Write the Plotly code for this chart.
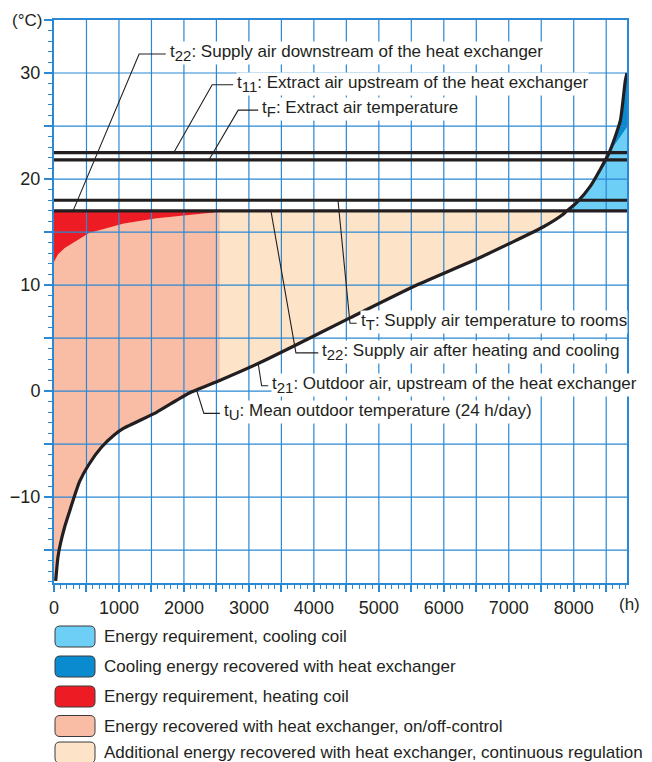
import plotly.graph_objects as go

# Outdoor air temperature duration curve (t21 / tU), hours per year vs °C
hours = [26, 46, 62, 99, 165, 242, 304, 396, 539, 730, 935, 1074, 1578, 2075, 2550,
         3143, 3709, 4556, 5584, 6559, 7535, 7843, 7895, 8049, 8254, 8547, 8717, 8794, 8820]
outdoor = [-17.9, -16.5, -15.6, -14.4, -12.8, -11.3, -10.1, -8.5, -6.9, -5.3, -4.1, -3.5, -2.0, -0.2, 1.0,
           2.6, 4.3, 6.9, 10.0, 12.6, 15.5, 16.7, 17.0, 17.8, 19.3, 22.5, 25.5, 29.3, 30.0]

# supply air after heat exchanger in heating mode (upper edge of salmon area)
hx_hours = [0, 62, 165, 304, 539, 1074, 1578, 2075, 2450, 2550]
hx_supply = [12.2, 12.9, 13.5, 14.0, 14.9, 15.8, 16.3, 16.6, 16.85, 17.0]

# supply air after heat exchanger in cooling mode (lower edge of dark blue area)
cool_hours = [8547, 8820]
cool_supply = [22.5, 24.9]

on_off_end = 2550          # end of on/off-controlled recovery (h)
x_max = 8820
y_min, y_max = -18.1, 35

# horizontal temperature levels
t22_level = 17.0   # supply air downstream of heat exchanger / after heating+cooling
tT_level = 18.0    # supply air temperature to rooms
tF_level = 21.8    # extract air temperature
t11_level = 22.5   # extract air upstream of heat exchanger

x_ticks = list(range(0, 8501, 500))
x_ticktext = [str(v) if v % 1000 == 0 else "" for v in x_ticks]
y_ticks = list(range(-15, 36, 5))
y_ticktext = [("\u221210" if v == -10 else str(v)) if v % 10 == 0 else "" for v in y_ticks]

legend_labels = [
    "Energy requirement, cooling coil",
    "Cooling energy recovered with heat exchanger",
    "Energy requirement, heating coil",
    "Energy recovered with heat exchanger, on/off-control",
    "Additional energy recovered with heat exchanger, continuous regulation",
]
legend_colors = ["#6dcff6", "#0a8bd0", "#ed1c24", "#f9bda5", "#fde4c8"]
c_cool, c_cool_rec, c_heat, c_onoff, c_cont = legend_colors

def sub(s):
    return f"<sub><span style='font-size:15px'>{s}</span></sub>"

# labels: text, target point, elbow point, end of horizontal leader (h, °C)
labels = [
    ("t" + sub("22") + ": Supply air downstream of the heat exchanger", (293, t22_level), (1310, 31.8), (1720, 31.8)),
    ("t" + sub("11") + ": Extract air upstream of the heat exchanger", (1844, t11_level), (2435, 28.9), (2758, 28.9)),
    ("t" + sub("F") + ": Extract air temperature", (2384, tF_level), (2835, 26.5), (3143, 26.5)),
    ("t" + sub("T") + ": Supply air temperature to rooms", (4371, tT_level), (4556, 6.4), (4659, 6.4)),
    ("t" + sub("22") + ": Supply air after heating and cooling", (3339, t22_level), (3724, 3.6), (4068, 3.6)),
    ("t" + sub("21") + ": Outdoor air, upstream of the heat exchanger", (3143, 2.6), (3196, 0.5), (3297, 0.5)),
    ("t" + sub("U") + ": Mean outdoor temperature (24 h/day)", (2194, 0.1), (2307, -2.1), (2553, -2.1)),
]

BLUE = "#2a88d4"
INK = "#231f20"
FONT = "Liberation Sans, Arial, sans-serif"

fig = go.Figure()

def area(x, y, color):
    fig.add_trace(go.Scatter(x=x, y=y, fill="toself", fillcolor=color, mode="lines",
                             line=dict(width=0), hoverinfo="skip", showlegend=False))

i17 = hours.index(7895)
i_on = hours.index(on_off_end)
i225 = hours.index(8547)

# continuous regulation (below 17 °C supply)
area([0] + hours[:i17 + 1] + [0], [outdoor[0]] + outdoor[:i17 + 1] + [t22_level], c_cont)
# on/off control part
area([0] + hours[:i_on + 1] + [on_off_end, 0],
     [outdoor[0]] + outdoor[:i_on + 1] + [t22_level, t22_level], c_onoff)
# heating coil
area(hx_hours + [0], hx_supply + [t22_level], c_heat)
# cooling coil
area(hours[i17:] + [x_max], outdoor[i17:] + [t22_level], c_cool)
# recovered cooling
area(hours[i225:] + cool_hours[::-1], outdoor[i225:] + cool_supply[::-1], c_cool_rec)

# grid drawn over the areas
gx, gy = [], []
for v in x_ticks[1:]:
    gx += [v, v, None]
    gy += [y_min, y_max, None]
for v in y_ticks[:-1]:
    gx += [0, x_max, None]
    gy += [v, v, None]
fig.add_trace(go.Scatter(x=gx, y=gy, mode="lines", line=dict(color=BLUE, width=1.2),
                         hoverinfo="skip", showlegend=False))

for lev in [t22_level, tT_level, tF_level, t11_level]:
    fig.add_trace(go.Scatter(x=[0, x_max], y=[lev, lev], mode="lines",
                             line=dict(color=INK, width=3.2), hoverinfo="skip", showlegend=False))

fig.add_trace(go.Scatter(x=hours, y=outdoor, mode="lines",
                         line=dict(color=INK, width=3.2, shape="spline", smoothing=0.5),
                         showlegend=False, name="tU"))

# leader lines and label texts
for text, tgt, elb, end in labels:
    fig.add_trace(go.Scatter(x=[tgt[0], elb[0], end[0]], y=[tgt[1], elb[1], end[1]], mode="lines",
                             line=dict(color=INK, width=1.1), hoverinfo="skip", showlegend=False))
    fig.add_annotation(x=end[0], y=end[1], text=text, showarrow=False, xanchor="left", yanchor="middle",
                       xshift=3, yshift=1, bgcolor="white", borderpad=0,
                       font=dict(family=FONT, size=17, color=INK))

# the page adds an 8 px body margin, so the figure is laid out in page pixels minus 8
OFF = 8
L, T, W, H = 54 - OFF, 20 - OFF, 573, 563
FW, FH = 652 - OFF, 762 - OFF

def px2x(px):
    return (px - OFF - L) / W

def py2y(py):
    return (T + H - (py - OFF)) / H

legend_y = [636.5, 666.5, 696.5, 726, 752.5]
for lab, col, cy in zip(legend_labels, legend_colors, legend_y):
    x0, x1 = px2x(55), px2x(95)
    y0, y1 = py2y(cy + 10.5), py2y(cy - 10.5)
    rx, ry = 5 / W, 5 / H
    path = (f"M {x0 + rx},{y0} L {x1 - rx},{y0} Q {x1},{y0} {x1},{y0 + ry} "
            f"L {x1},{y1 - ry} Q {x1},{y1} {x1 - rx},{y1} L {x0 + rx},{y1} "
            f"Q {x0},{y1} {x0},{y1 - ry} L {x0},{y0 + ry} Q {x0},{y0} {x0 + rx},{y0} Z")
    fig.add_shape(type="path", path=path, xref="paper", yref="paper", fillcolor=col,
                  line=dict(color="#3a3a3a", width=1))
    fig.add_annotation(x=px2x(102), y=py2y(cy), xref="paper", yref="paper", text=lab, showarrow=False,
                       xanchor="left", yanchor="middle", font=dict(family=FONT, size=17, color=INK))

fig.add_annotation(x=px2x(44), y=py2y(21), xref="paper", yref="paper", text="(°C)", showarrow=False,
                   xanchor="right", yanchor="middle", font=dict(family=FONT, size=17, color=INK))
fig.add_annotation(x=px2x(629), y=py2y(604), xref="paper", yref="paper", text="(h)", showarrow=False,
                   xanchor="center", yanchor="middle", font=dict(family=FONT, size=17, color=INK))

fig.update_xaxes(range=[0, x_max], showgrid=False, zeroline=False, showline=True, linecolor=BLUE,
                 linewidth=2, mirror=True, ticks="outside", tickvals=x_ticks, ticktext=x_ticktext,
                 ticklen=7, tickwidth=1.5, tickcolor=BLUE, ticklabelstandoff=0, automargin=False,
                 tickfont=dict(family=FONT, size=18, color=INK),
                 minor=dict(dtick=100, tick0=0, ticks="outside", ticklen=4, tickcolor=BLUE, tickwidth=1.2,
                            showgrid=False))
fig.update_yaxes(range=[y_min, y_max], showgrid=False, zeroline=False, showline=True, linecolor=BLUE,
                 linewidth=2, mirror=True, ticks="outside", tickvals=y_ticks, ticktext=y_ticktext,
                 ticklen=8, tickwidth=1.5, tickcolor=BLUE, automargin=False,
                 tickfont=dict(family=FONT, size=18, color=INK),
                 minor=dict(dtick=1, tick0=0, ticks="outside", ticklen=4, tickcolor=BLUE, tickwidth=1.2,
                            showgrid=False))

fig.update_layout(width=FW, height=FH, margin=dict(l=L, r=FW - L - W, t=T, b=FH - T - H),
                  plot_bgcolor="white", paper_bgcolor="white", showlegend=False)

fig.write_html("out.html")
